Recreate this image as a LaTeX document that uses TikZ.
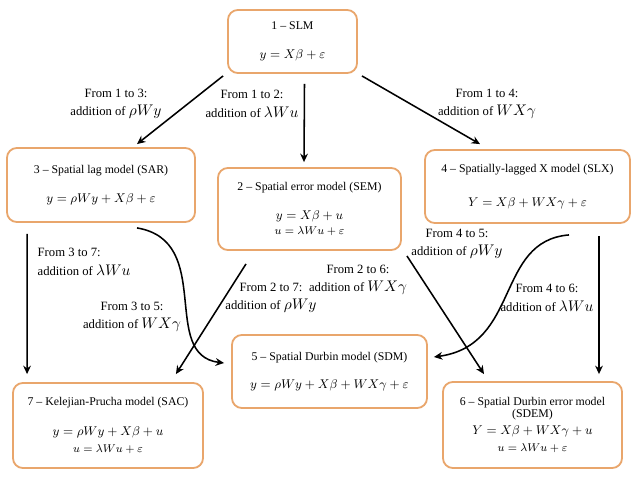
\documentclass[tikz,border=0pt]{standalone}
\usepackage{fontspec}
\setmainfont{Liberation Serif}
\usepackage{tikz}
\usetikzlibrary{arrows.meta,calc}
\definecolor{boxc}{HTML}{E9A66C}
\newcommand{\eqa}[1]{{\fontsize{9.5}{11}\selectfont$#1$}}
\newcommand{\eqb}[1]{{\fontsize{8}{9}\selectfont$#1$}}
\newcommand{\lm}[1]{{\fontsize{10.5}{11}\selectfont$#1$}}

\begin{document}
\begin{tikzpicture}[x=0.025cm,y=-0.025cm,font=\fontsize{8.4}{13}\selectfont,>={Stealth[length=6pt,width=5.5pt]},box/.style={draw=boxc,line width=1.3pt,rounded corners=7pt,align=center,inner sep=2pt},lab/.style={align=center,inner sep=1pt,font=\fontsize{9}{13}\selectfont},arr/.style={->,line width=1.1pt}]
\useasboundingbox (0,0) rectangle (640,481);
\node[box,minimum width=3.225cm,minimum height=1.575cm] (slm) at (292.5,41.5) {1 \textendash{} SLM\\[8pt]\eqa{y=X\beta+\varepsilon}};
\node[box,minimum width=4.7cm,minimum height=1.85cm] (sar) at (101,185) {3 \textendash{} Spatial lag model (SAR)\\[8pt]\eqa{y=\rho Wy+X\beta+\varepsilon}};
\node[box,minimum width=4.575cm,minimum height=2.05cm] (sem) at (309.5,209) {2 \textendash{} Spatial error model (SEM)\\[8pt]\eqa{y=X\beta+u}\\[-2.5pt]\eqb{u=\lambda Wu+\varepsilon}};
\node[box,minimum width=5.125cm,minimum height=1.825cm] (slx) at (527.5,186.5) {4 \textendash{} Spatially-lagged X model (SLX)\\[11pt]\eqa{Y=X\beta+WX\gamma+\varepsilon}};
\node[box,minimum width=4.875cm,minimum height=1.825cm] (sdm) at (329.5,371.5) {5 \textendash{} Spatial Durbin model (SDM)\\[7pt]\eqa{y=\rho Wy+X\beta+WX\gamma+\varepsilon}};
\node[box,minimum width=4.75cm,minimum height=2.125cm] (sac) at (108,425.5) {7 \textendash{} Kelejian-Prucha model (SAC)\\[8pt]\eqa{y=\rho Wy+X\beta+u}\\[-1pt]\eqb{u=\lambda Wu+\varepsilon}};
\node[box,minimum width=4.475cm,minimum height=2.15cm] (sdem) at (532.5,425) {6 \textendash{} Spatial Durbin error model\\[-4pt](SDEM)\\[-1pt]\eqa{Y=X\beta+WX\gamma+u}\\[-1pt]\eqb{u=\lambda Wu+\varepsilon}};
% labels
\node[lab] (l13) at (116,104) {From 1 to 3:\\addition of \lm{\rho Wy}};
\node[lab] (l12) at (252,104) {From 1 to 2:\\addition of \lm{\lambda Wu}};
\node[lab] (l14) at (487,104) {From 1 to 4:\\addition of \lm{WX\gamma}};
\node[lab,align=left,anchor=west] (l37) at (36,262) {From 3 to 7:\\addition of \lm{\lambda Wu}};
\node[lab] (l35) at (132,317) {From 3 to 5:\\addition of \lm{WX\gamma}};
\node[lab] (l27) at (271,298) {From 2 to 7:\\addition of \lm{\rho Wy}};
\node[lab] (l26) at (358,280) {From 2 to 6:\\addition of \lm{WX\gamma}};
\node[lab] (l45) at (457,244) {From 4 to 5:\\addition of \lm{\rho Wy}};
\node[lab] (l46) at (547,298) {From 4 to 6:\\addition of \lm{\lambda Wu}};
% arrows
\draw[arr] ($(slm.south west)+(-4,2)$)--($(sar.north)+(36,-3)$);
\draw[arr] ($(slm.south)+(12,10)$)--($(sem.north)+(-5.5,-5)$);
\draw[arr] ($(slm.south east)+(4,2)$)--($(slx.north)+(-47.5,-5)$);
\draw[arr] ($(sar.south west)+(21,11)$)--($(sac.north west)+(15,-8)$);
\draw[arr] ($(sar.south)+(36,5)$) .. controls +(78,13) and +(-65,-8) .. ($(sdm.west)+(-7,-8.5)$);
\draw[arr] ($(sem.south)+(-63.5,13)$)--($(sac.north east)+(-28,-8)$);
\draw[arr] ($(sem.south east)+(5,5)$)--($(sdem.north)+(-48.5,-7)$);
\draw[arr] ($(slx.south)+(41.5,11)$) .. controls +(-74,6) and +(87,-12) .. ($(sdm.east)+(6,-14.5)$);
\draw[arr] ($(slx.south)+(71.5,12)$)--($(sdem.north)+(66.5,-7)$);
\end{tikzpicture}
\end{document}
